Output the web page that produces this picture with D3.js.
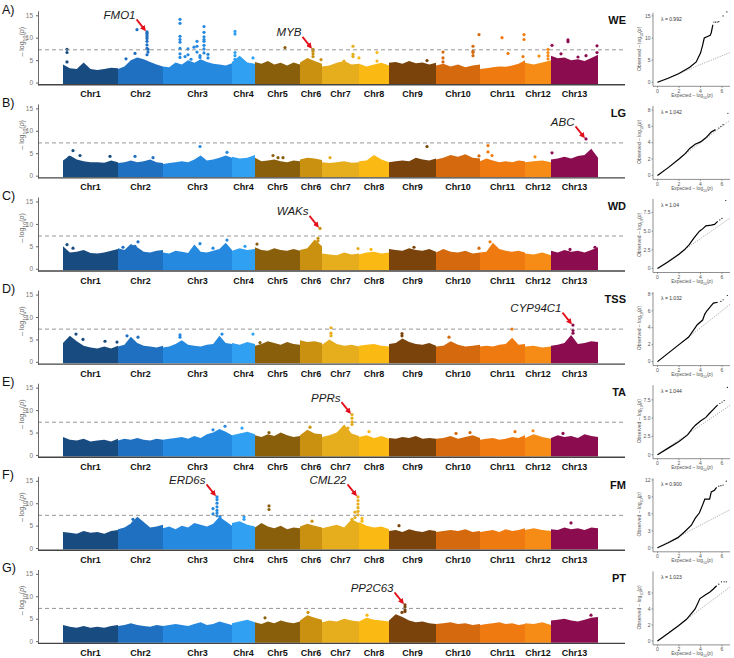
<!DOCTYPE html>
<html>
<head>
<meta charset="utf-8">
<script src="https://cdn.jsdelivr.net/npm/d3@7"></script>
<style>
  body { margin: 0; background: #fff; }
  svg { font-family: "Liberation Sans", Arial, sans-serif; }
</style>
</head>
<body>
<div id="chart"></div>
<script>
// Manhattan + QQ plots for seven traits.

// chromosomes
// ------------------------------------------------------
const chromosomes = ["Chr1", "Chr2", "Chr3", "Chr4", "Chr5", "Chr6", "Chr7",
                     "Chr8", "Chr9", "Chr10", "Chr11", "Chr12", "Chr13"];
const chrLength = [55, 45, 69, 23, 45, 22, 37, 30, 47, 44, 45, 26, 47];
const chrColors = ["#184b80", "#1f70c0", "#2589e0", "#30a0f2", "#8a5f0b", "#c9910f",
                   "#e6ad1c", "#fbb914", "#7a430b", "#d4690e", "#ef7a0f", "#f68b15", "#8b0d50"];

const traitNames = ["WE", "LG", "WD", "TSS", "TA", "FM", "PT"];
const panelLetters = ["A)", "B)", "C)", "D)", "E)", "F)", "G)"];
const lambdas = ["0.992", "1.042", "1.04", "1.032", "1.044", "0.900", "1.023"];
const threshold = 7.3;
const manhattanTicks = [0, 5, 10, 15];

// dense mass: upper envelope of -log10(p), evenly spaced along each chromosome
const weMass = [
    [4.0, 3.2, 3.0, 4.5, 3.0, 2.8, 3.0, 3.3, 3.2],
    [3.0, 3.6, 5.0, 5.6, 5.2, 4.6, 4.0, 3.6],
    [3.6, 3.4, 4.5, 4.0, 5.0, 4.4, 5.2, 4.6, 4.2, 4.0, 3.8, 4.3],
    [4.6, 6.0, 4.5, 4.2],
    [4.6, 4.2, 4.8, 4.0, 4.4, 3.8, 4.5, 4.0],
    [4.5, 5.5, 4.8, 4.2],
    [3.6, 3.8, 4.4, 4.8, 4.0, 4.2],
    [4.2, 3.6, 4.0, 4.4, 3.8],
    [4.4, 4.6, 4.2, 4.8, 4.3, 4.5, 4.0, 4.4],
    [3.8, 4.2, 3.6, 4.0, 3.4, 3.8, 4.0],
    [3.0, 3.2, 3.4, 3.6, 3.5, 3.8, 4.2, 5.0],
    [4.4, 4.0, 4.5, 5.0],
    [6.0, 5.4, 5.6, 5.0, 5.2, 4.8, 5.5, 6.2]
];
const lgMass = [
    [3.4, 4.5, 3.6, 3.2, 3.0, 3.0, 2.9, 3.4, 3.0],
    [2.8, 3.0, 3.4, 3.0, 3.2, 3.6, 3.0, 2.8],
    [2.6, 2.8, 3.0, 3.2, 3.0, 3.6, 4.5, 3.4, 3.6, 4.0, 4.5, 4.0],
    [4.2, 3.8, 4.0, 4.6],
    [4.0, 3.2, 3.4, 3.6, 3.2, 3.0, 3.4, 3.2],
    [3.6, 4.0, 3.8, 3.5],
    [3.0, 2.8, 3.0, 3.2, 2.9, 3.0],
    [3.2, 3.4, 4.6, 3.6, 3.0],
    [3.0, 3.2, 3.4, 3.2, 4.0, 3.6, 3.4, 3.8],
    [3.6, 4.0, 4.6, 4.2, 4.8, 4.0, 3.8],
    [3.2, 3.8, 3.4, 3.0, 3.2, 3.0, 3.4, 3.2],
    [3.0, 3.2, 3.4, 3.0],
    [3.6, 3.8, 4.2, 3.8, 4.4, 4.6, 6.0, 4.0]
];
const wdMass = [
    [5.0, 3.6, 3.8, 4.2, 3.5, 3.4, 3.6, 4.0, 4.4],
    [4.6, 4.2, 5.5, 4.8, 3.8, 3.6, 4.0, 4.2],
    [3.6, 3.4, 4.0, 3.8, 3.5, 5.4, 3.8, 3.6, 4.0, 4.4, 5.8, 4.2],
    [4.0, 4.6, 4.2, 4.4],
    [4.8, 4.2, 4.0, 4.6, 4.2, 4.0, 4.4, 4.0],
    [4.2, 4.6, 6.5, 5.0],
    [3.4, 3.2, 3.0, 3.6, 3.2, 3.4],
    [3.2, 3.6, 3.8, 3.4, 3.6],
    [4.4, 4.2, 4.0, 4.6, 4.2, 4.0, 4.4, 3.8],
    [3.6, 4.4, 3.8, 3.6, 4.0, 3.4, 3.6],
    [3.6, 3.8, 5.8, 4.4, 4.0, 3.8, 4.0, 3.6],
    [3.4, 3.2, 3.6, 3.0],
    [4.0, 3.6, 4.2, 3.8, 4.0, 3.6, 4.2, 4.8]
];
const tssMass = [
    [4.2, 5.8, 4.6, 3.6, 3.2, 3.0, 3.4, 3.0, 3.6],
    [3.4, 3.8, 5.6, 4.2, 3.6, 3.4, 3.2, 3.6],
    [3.2, 3.4, 4.0, 4.8, 3.8, 3.6, 3.4, 3.8, 4.0, 5.8, 4.2, 4.0],
    [4.2, 3.8, 4.4, 4.0],
    [3.6, 4.0, 4.6, 4.2, 3.8, 4.4, 4.0, 3.8],
    [4.8, 4.4, 4.6, 4.2],
    [3.8, 5.0, 4.0, 3.6, 3.8, 3.4],
    [3.6, 3.8, 4.0, 3.6, 3.4],
    [4.0, 4.2, 5.2, 4.4, 4.0, 3.8, 4.2, 3.6],
    [3.4, 3.6, 4.6, 3.8, 3.4, 3.6, 3.8],
    [3.4, 3.6, 3.4, 3.8, 4.0, 5.4, 3.8, 4.0],
    [3.4, 3.6, 3.2, 3.4],
    [3.6, 3.8, 4.2, 6.0, 4.0, 4.2, 4.6, 4.4]
];
const taMass = [
    [4.0, 3.4, 3.2, 3.6, 3.0, 3.2, 3.4, 3.0, 3.6],
    [3.2, 3.6, 3.4, 3.8, 3.4, 3.2, 3.6, 3.4],
    [3.4, 3.6, 3.8, 4.0, 3.6, 4.2, 3.8, 4.6, 5.0, 5.8, 5.2, 4.4],
    [4.4, 4.8, 5.2, 4.6],
    [4.4, 4.0, 4.6, 4.2, 5.0, 4.4, 4.0, 4.2],
    [4.4, 5.6, 4.8, 4.6],
    [4.0, 4.4, 5.0, 6.8, 4.8, 4.2],
    [4.0, 4.4, 3.8, 4.2, 3.6],
    [3.8, 3.6, 4.0, 3.8, 4.2, 3.6, 3.8, 3.6],
    [3.6, 3.8, 4.2, 3.6, 4.0, 4.4, 3.8],
    [3.4, 3.6, 3.8, 3.4, 3.6, 4.0, 3.8, 4.4],
    [3.8, 4.6, 4.0, 3.6],
    [3.8, 4.4, 4.0, 4.2, 3.8, 4.6, 4.2, 4.0]
];
const fmMass = [
    [3.6, 3.4, 3.2, 3.8, 3.4, 3.6, 3.2, 3.8, 4.0],
    [4.2, 4.6, 5.5, 7.0, 5.8, 4.6, 4.8, 5.2],
    [4.4, 4.8, 4.2, 5.0, 4.6, 5.6, 5.2, 4.8, 5.4, 7.0, 6.0, 5.0],
    [5.6, 6.0, 5.2, 4.8],
    [4.6, 5.6, 4.8, 4.4, 5.0, 4.2, 4.6, 4.4],
    [4.8, 5.4, 5.0, 4.6],
    [4.4, 4.8, 5.2, 4.6, 6.4, 5.6],
    [5.8, 5.0, 4.6, 4.8, 4.2],
    [3.8, 4.0, 3.6, 4.2, 3.8, 3.6, 4.0, 3.8],
    [3.6, 3.8, 4.0, 3.8, 4.2, 3.6, 3.8],
    [3.6, 3.8, 4.0, 3.6, 4.2, 3.8, 4.0, 4.4],
    [4.0, 4.4, 4.0, 3.8],
    [4.2, 4.0, 4.6, 4.2, 4.4, 4.0, 4.6, 4.4]
];
const ptMass = [
    [3.6, 3.2, 3.0, 3.4, 3.0, 3.2, 3.0, 3.4, 3.6],
    [3.4, 3.6, 4.0, 3.6, 3.4, 3.2, 3.6, 3.4],
    [3.4, 3.6, 3.8, 3.6, 3.4, 3.8, 4.2, 3.6, 3.8, 4.4, 4.0, 3.6],
    [4.0, 4.4, 4.8, 4.2],
    [4.2, 3.8, 4.4, 4.0, 4.6, 4.2, 4.0, 4.4],
    [4.6, 5.8, 5.2, 4.8],
    [4.2, 4.6, 4.4, 5.0, 4.6, 4.4],
    [4.4, 5.2, 4.8, 4.6, 4.4],
    [4.6, 6.0, 5.4, 4.6, 4.2, 4.4, 4.0, 3.8],
    [3.8, 4.0, 4.2, 3.8, 4.0, 3.6, 3.8],
    [3.6, 3.8, 4.0, 4.2, 3.8, 4.0, 3.6, 3.8],
    [4.0, 3.8, 4.2, 3.6],
    [4.6, 4.8, 5.0, 4.6, 4.4, 4.8, 5.2, 5.4]
];

// single SNPs standing out of the mass: [chromosome, position, -log10(p)]
const weDots = [
    [1, 4, 7.4], [1, 4, 6.7], [1, 4, 4.6],
    [2, 8, 5.3], [2, 17, 6.5], [2, 19, 11.8],
    [2, 29, 11.3], [2, 29, 11.0], [2, 29, 10.6], [2, 29, 10.2], [2, 29, 9.8], [2, 29, 9.2],
    [2, 29, 8.4], [2, 29, 7.6], [2, 30, 7.4], [2, 30, 6.8], [2, 29, 6.2],
    [3, 17, 14.1], [3, 17, 13.2], [3, 17, 10.3], [3, 17, 9.6], [3, 17, 9.0], [3, 17, 7.6], [3, 17, 6.4], [3, 17, 5.6],
    [3, 22, 5.8], [3, 25, 7.5], [3, 25, 6.2], [3, 31, 7.9], [3, 34, 9.2], [3, 34, 8.1], [3, 34, 6.8],
    [3, 37, 6.0], [3, 37, 5.6], [3, 28, 5.2],
    [3, 41, 12.5], [3, 41, 11.2], [3, 41, 10.2], [3, 41, 9.6], [3, 41, 9.2], [3, 41, 8.3], [3, 41, 7.5], [3, 41, 6.6],
    [3, 45, 6.3], [3, 45, 5.5],
    [4, 3, 11.4], [4, 3, 10.8], [4, 3, 6.7], [4, 3, 6.0], [4, 3, 5.2], [4, 21, 5.5],
    [5, 30, 7.8],
    [6, 13, 7.4], [6, 13, 7.0], [6, 13, 6.4], [6, 13, 5.8], [6, 21, 5.1],
    [7, 31, 8.1], [7, 31, 6.3], [7, 31, 5.8], [7, 22, 4.8],
    [8, 18, 6.7], [8, 18, 4.8], [8, 0, 5.5],
    [9, 38, 4.9],
    [10, 7, 6.8], [10, 7, 5.5], [10, 7, 4.6], [10, 37, 8.1], [10, 37, 7.0], [10, 37, 6.7], [10, 37, 6.0], [10, 43, 10.7],
    [11, 22, 10.0], [11, 28, 6.5], [11, 44, 10.7], [11, 44, 9.6], [11, 43, 5.8],
    [12, 23, 7.4], [12, 23, 6.7], [12, 23, 6.0], [12, 23, 5.3], [12, 14, 5.9],
    [13, 1, 8.3], [13, 17, 9.5], [13, 17, 9.1], [13, 27, 5.7], [13, 46, 8.2], [13, 46, 6.7], [13, 10, 6.4], [13, 35, 6.0]
];
const lgDots = [
    [1, 10, 5.6], [1, 17, 4.5], [1, 6, 4.0], [1, 47, 4.3],
    [2, 17, 4.3], [2, 35, 4.0],
    [3, 37, 6.5], [3, 64, 5.2],
    [5, 18, 4.5], [5, 23, 4.0], [5, 28, 4.0],
    [7, 8, 4.0],
    [9, 38, 6.5],
    [10, 43, 4.4],
    [11, 8, 6.7], [11, 8, 5.3], [11, 12, 4.5],
    [12, 10, 4.2],
    [13, 1, 5.1], [13, 35, 8.2]
];
const wdDots = [
    [1, 4, 5.4], [1, 10, 4.6],
    [2, 20, 6.0], [2, 17, 5.0], [2, 5, 4.8],
    [3, 64, 6.4], [3, 37, 5.6], [3, 50, 4.6],
    [4, 13, 5.0],
    [5, 2, 5.5],
    [6, 20, 9.0], [6, 18, 6.8], [6, 18, 6.2],
    [7, 36, 4.5],
    [8, 12, 4.3],
    [9, 25, 4.8],
    [10, 43, 4.6],
    [11, 10, 6.0],
    [13, 19, 4.3], [13, 44, 4.8]
];
const tssDots = [
    [1, 13, 6.2], [1, 20, 5.0], [1, 42, 4.6], [1, 54, 4.4],
    [2, 9, 5.8], [2, 20, 5.5],
    [3, 17, 6.0], [3, 17, 5.5], [3, 59, 6.2],
    [4, 21, 6.2],
    [5, 5, 4.3],
    [7, 9, 7.6], [7, 9, 6.4], [7, 9, 5.8],
    [9, 13, 6.3], [9, 13, 5.8],
    [10, 13, 5.5],
    [11, 32, 7.3],
    [13, 22, 8.2], [13, 22, 7.0], [13, 22, 6.4]
];
const taDots = [
    [3, 62, 6.4], [3, 50, 5.6],
    [4, 10, 6.0],
    [5, 14, 5.0],
    [6, 10, 6.2],
    [7, 30, 9.0], [7, 30, 8.2], [7, 30, 7.4], [7, 30, 6.8], [7, 26, 6.0],
    [8, 10, 5.2],
    [10, 34, 5.0], [10, 20, 4.8],
    [11, 35, 5.2],
    [12, 8, 5.4],
    [13, 12, 4.8]
];
const fmDots = [
    [2, 15, 6.4], [2, 15, 5.6],
    [3, 54, 11.4], [3, 54, 10.8], [3, 54, 10.0], [3, 54, 9.2], [3, 54, 8.4], [3, 54, 7.8], [3, 54, 7.2],
    [3, 50, 8.8], [3, 50, 7.6], [3, 57, 7.0],
    [4, 12, 7.0], [4, 12, 6.4],
    [5, 14, 9.4], [5, 14, 8.6],
    [6, 12, 6.0],
    [7, 36, 11.4], [7, 36, 10.6], [7, 36, 9.8], [7, 36, 9.0], [7, 36, 8.2], [7, 36, 7.4],
    [7, 33, 8.0], [7, 33, 6.8], [7, 30, 6.4],
    [8, 3, 6.6], [8, 3, 6.0],
    [9, 10, 5.0],
    [13, 20, 5.6]
];
const ptDots = [
    [5, 10, 5.2],
    [6, 8, 6.4],
    [8, 8, 5.8],
    [9, 16, 8.1], [9, 16, 7.6], [9, 16, 7.0], [9, 16, 6.6], [9, 13, 6.4],
    [13, 40, 5.8]
];

// labelled candidate genes: trait, gene, [chromosome, position, -log10(p)]
const genes = [
    ["WE", "FMO1", [2, 29, 11.3]],
    ["WE", "MYB", [6, 13, 7.4]],
    ["LG", "ABC", [13, 35, 8.2]],
    ["WD", "WAKs", [6, 20, 9.0]],
    ["TSS", "CYP94C1", [13, 22, 8.2]],
    ["TA", "PPRs", [7, 30, 9.0]],
    ["FM", "ERD6s", [3, 54, 11.4]],
    ["FM", "CML22", [7, 36, 11.4]],
    ["PT", "PP2C63", [9, 16, 8.1]]
];

// QQ plots: [expected, observed] along the curve, then the sparse top points
const weQQ = [[0, 0], [1, 0.9], [2, 2.0], [3, 3.4], [3.6, 4.6], [4, 6.6], [4.2, 8.4], [4.35, 10], [4.6, 10.3],
              [4.9, 10.6], [5.0, 11.2], [5.15, 13.0]];
const weQQTail = [[5.25, 13.6], [5.4, 13.6], [5.55, 13.6], [5.7, 13.7], [6.1, 15.0], [6.45, 15.9]];
const lgQQ = [[0, 0], [1, 0.95], [2, 2.0], [2.6, 2.7], [3, 3.3], [3.5, 3.8], [4, 4.1], [4.5, 4.6], [5, 5.3], [5.4, 5.6]];
const lgQQTail = [[5.7, 5.8], [5.9, 6.0], [6.1, 6.2], [6.55, 7.6]];
const wdQQ = [[0, 0], [1, 0.9], [2, 1.9], [2.5, 2.5], [2.95, 3.2], [3.4, 4.1], [3.9, 5.0], [4.2, 5.3], [4.5, 5.7],
              [5.0, 5.8], [5.3, 5.9], [5.6, 6.3]];
const wdQQTail = [[5.8, 6.5], [6.0, 6.7], [6.35, 9.1]];
const tssQQ = [[0, 0], [1, 1.0], [2, 2.0], [2.9, 2.9], [3.4, 3.8], [3.7, 4.35], [4.2, 4.9], [4.4, 5.6], [4.6, 6.0],
               [5.0, 6.6], [5.2, 6.9], [5.6, 7.0]];
const tssQQTail = [[5.9, 7.1], [6.1, 7.3], [6.5, 7.8]];
const taQQ = [[0, 0], [1, 0.9], [2, 1.8], [2.8, 2.7], [3.2, 3.5], [3.5, 4.0], [4, 4.6], [4.5, 5.1], [4.8, 5.6],
              [5.2, 6.2], [5.6, 6.8]];
const taQQTail = [[5.8, 7.0], [6.0, 7.2], [6.2, 7.4], [6.5, 9.2]];
const fmQQ = [[0, 0], [1, 0.9], [1.9, 1.8], [2.5, 2.8], [3.15, 4.0], [3.5, 5.2], [3.9, 6.2], [4.2, 7.6], [4.4, 8.6],
              [4.85, 8.6], [5.0, 9.9], [5.3, 10.2], [5.5, 10.7]];
const fmQQTail = [[5.7, 10.9], [5.9, 11.0], [6.1, 11.1], [6.4, 11.8]];
const ptQQ = [[0, 0], [1, 0.95], [1.95, 1.9], [2.7, 2.7], [3.2, 3.5], [3.5, 4.0], [3.95, 5.3], [4.4, 5.7], [4.85, 6.1],
              [5.2, 6.5], [5.5, 6.9]];
const ptQQTail = [[5.7, 7.1], [5.95, 7.4], [6.2, 7.4], [6.4, 7.4]];

const qqTicks = [[0, 5, 10, 15], [0, 2, 4, 6, 8], [0, 2.5, 5, 7.5], [0, 2, 4, 6, 8],
                 [0, 2.5, 5, 7.5], [0, 3, 6, 9, 12], [0, 2, 4, 6]];
const qqTop = [15.7, 8.5, 9.3, 8.2, 9.5, 12.3, 8.7];
const qqXTicks = [0, 2, 4, 6];

const masses = [weMass, lgMass, wdMass, tssMass, taMass, fmMass, ptMass];
const dotSets = [weDots, lgDots, wdDots, tssDots, taDots, fmDots, ptDots];
const qqLines = [weQQ, lgQQ, wdQQ, tssQQ, taQQ, fmQQ, ptQQ];
const qqTails = [weQQTail, lgQQTail, wdQQTail, tssQQTail, taQQTail, fmQQTail, ptQQTail];

const traits = traitNames.map((name, i) => ({
    name: name,
    letter: panelLetters[i],
    lambda: lambdas[i],
    mass: masses[i],
    dots: dotSets[i],
    qq: qqLines[i],
    qqTail: qqTails[i],
    qqTicks: qqTicks[i],
    qqTop: qqTop[i]
}));


// layout
// ------------------------------------------------------
let width = 734,
    height = 658,
    firstAxisY = 84.8,
    panelStep = 93.1,
    axisLeft = 38,
    axisRight = 625,
    plotLeft = 63,
    plotRight = 598,
    qqLeft = 653,
    qqRight = 730,
    pointRadius = 1.6;

let chrStart = [];
chrLength.reduce((acc, len, i) => { chrStart[i] = acc; return acc + len; }, 0);
let genomeLength = d3.sum(chrLength);

let xScale = d3.scaleLinear()
    .domain([0, genomeLength])
    .range([plotLeft, plotRight]);

let qqX = d3.scaleLinear()
    .domain([0, 6])
    .range([657.5, 722]);

let svg = d3.select("#chart")
    .append("svg")
        .attr("width", width)
        .attr("height", height);

svg.append("defs")
    .append("marker")
        .attr("id", "arrowHead")
        .attr("viewBox", "0 0 10 10")
        .attr("refX", 6)
        .attr("refY", 5)
        .attr("markerWidth", 3.2)
        .attr("markerHeight", 3.2)
        .attr("orient", "auto")
    .append("path")
        .attr("d", "M0,0 L10,5 L0,10 z")
        .attr("fill", "#e3101b");

// writes "– log10(p)" with subscript and italic p
function logLabel(text, prefix) {
    text.append("tspan").text(prefix + "\u2013 log");
    text.append("tspan").attr("baseline-shift", "sub").attr("font-size", "75%").text("10");
    text.append("tspan").text("(");
    text.append("tspan").attr("font-style", "italic").text("p");
    text.append("tspan").text(")");
}

traits.forEach((trait, i) => {
    let axisY = firstAxisY + i * panelStep;
    let g = svg.append("g").attr("class", "panel");

    let yScale = d3.scaleLinear()
        .domain([-0.5, 16])
        .range([axisY, axisY - 74]);

    // panel letter and trait name
    g.append("text")
        .attr("x", 2)
        .attr("y", axisY - 71)
        .attr("font-size", 12.5)
        .attr("fill", "#111")
        .text(trait.letter);

    g.append("text")
        .attr("x", 626)
        .attr("y", axisY - 61)
        .attr("text-anchor", "end")
        .attr("font-size", 11)
        .attr("font-weight", "bold")
        .attr("fill", "#111")
        .text(trait.name);


    // mass of SNPs
    // ------------------------------------------------------
    let area = d3.area()
        .x(d => xScale(d[0]))
        .y0(yScale(0) + 1.5)
        .y1(d => yScale(d[1]));

    trait.mass.forEach((values, c) => {
        let n = values.length;
        let pts = values.map((v, k) => [chrStart[c] + chrLength[c] * k / (n - 1), v]);
        g.append("path")
            .attr("d", area(pts))
            .attr("fill", chrColors[c]);
    });

    g.selectAll(".snp")
        .data(trait.dots)
        .enter()
        .append("circle")
            .attr("class", "snp")
            .attr("cx", d => xScale(chrStart[d[0] - 1] + d[1]))
            .attr("cy", d => yScale(d[2]))
            .attr("r", pointRadius)
            .attr("fill", d => chrColors[d[0] - 1]);


    // axes
    // ------------------------------------------------------
    g.append("line")
        .attr("x1", axisLeft).attr("x2", axisRight)
        .attr("y1", yScale(threshold)).attr("y2", yScale(threshold))
        .attr("stroke", "#8a8a8a")
        .attr("stroke-width", 0.9)
        .attr("stroke-dasharray", "4,3");

    let leftAxis = g.append("g")
        .attr("transform", `translate(${axisLeft}, 0)`)
        .call(d3.axisLeft(yScale).tickValues(manhattanTicks).tickSize(2).tickSizeOuter(0));
    leftAxis.select(".domain").attr("stroke", "#444").attr("stroke-width", 0.8);
    leftAxis.selectAll(".tick line").attr("stroke", "#666");
    leftAxis.selectAll(".tick text")
        .attr("font-size", 6.5)
        .attr("fill", "#777")
        .attr("font-family", "Liberation Sans, Arial, sans-serif");

    g.append("line")
        .attr("x1", axisLeft).attr("x2", axisRight)
        .attr("y1", axisY).attr("y2", axisY)
        .attr("stroke", "#444")
        .attr("stroke-width", 1.4);

    let yTitle = g.append("text")
        .attr("transform", `translate(24, ${axisY - 43}) rotate(-90)`)
        .attr("text-anchor", "middle")
        .attr("font-size", 7)
        .attr("fill", "#666");
    logLabel(yTitle, "");

    g.selectAll(".chrLabel")
        .data(chromosomes)
        .enter()
        .append("text")
            .attr("class", "chrLabel")
            .attr("x", (d, c) => xScale(chrStart[c] + chrLength[c] / 2))
            .attr("y", axisY + 12.5)
            .attr("text-anchor", "middle")
            .attr("font-size", 9)
            .attr("font-weight", "bold")
            .attr("fill", "#111")
            .text(d => d);


    // gene labels
    // ------------------------------------------------------
    genes.filter(d => d[0] === trait.name).forEach(d => {
        let tx = xScale(chrStart[d[2][0] - 1] + d[2][1]),
            ty = yScale(d[2][2]);
        let tip = [tx - 2.5, ty - 2.5],
            tail = [tip[0] - 8, tip[1] - 10];
        g.append("line")
            .attr("x1", tail[0]).attr("y1", tail[1])
            .attr("x2", tip[0]).attr("y2", tip[1])
            .attr("stroke", "#e3101b")
            .attr("stroke-width", 1.8)
            .attr("marker-end", "url(#arrowHead)");
        g.append("text")
            .attr("x", tail[0] - 1)
            .attr("y", tail[1] - 0.5)
            .attr("text-anchor", "end")
            .attr("font-size", 11.5)
            .attr("font-style", "italic")
            .attr("fill", "#1a1a1a")
            .text(d[1]);
    });


    // QQ plot
    // ------------------------------------------------------
    let qqBase = axisY + 1.5;
    let qqY = d3.scaleLinear()
        .domain([0, trait.qqTop])
        .range([axisY - 2.5, axisY - 72]);

    let q = svg.append("g").attr("class", "qq");

    q.append("line")
        .attr("x1", qqX(0)).attr("y1", qqY(0))
        .attr("x2", qqX(6.75)).attr("y2", qqY(6.75))
        .attr("stroke", "#777")
        .attr("stroke-width", 0.6)
        .attr("stroke-dasharray", "1.2,1.2");

    q.append("path")
        .attr("d", d3.line().x(d => qqX(d[0])).y(d => qqY(d[1]))(trait.qq))
        .attr("fill", "none")
        .attr("stroke", "#000")
        .attr("stroke-width", 1.2);

    q.selectAll(".tail")
        .data(trait.qqTail)
        .enter()
        .append("circle")
            .attr("class", "tail")
            .attr("cx", d => qqX(d[0]))
            .attr("cy", d => qqY(d[1]))
            .attr("r", 0.6)
            .attr("fill", "#000");

    q.append("line")
        .attr("x1", qqLeft).attr("x2", qqLeft)
        .attr("y1", qqBase).attr("y2", axisY - 72)
        .attr("stroke", "#444").attr("stroke-width", 0.6);
    q.append("line")
        .attr("x1", qqLeft).attr("x2", qqRight)
        .attr("y1", qqBase).attr("y2", qqBase)
        .attr("stroke", "#444").attr("stroke-width", 0.6);

    let fmt = trait.qqTicks.some(t => !Number.isInteger(t)) ? d3.format(".1f") : d3.format("d");
    trait.qqTicks.forEach(t => {
        q.append("line")
            .attr("x1", qqLeft - 1.5).attr("x2", qqLeft)
            .attr("y1", qqY(t)).attr("y2", qqY(t))
            .attr("stroke", "#444").attr("stroke-width", 0.5);
        q.append("text")
            .attr("x", qqLeft - 2.5)
            .attr("y", qqY(t) + 1.8)
            .attr("text-anchor", "end")
            .attr("font-size", 5)
            .attr("fill", "#555")
            .text(t === 0 ? "0" : fmt(t));
    });
    qqXTicks.forEach(t => {
        q.append("line")
            .attr("x1", qqX(t)).attr("x2", qqX(t))
            .attr("y1", qqBase).attr("y2", qqBase + 1.5)
            .attr("stroke", "#444").attr("stroke-width", 0.5);
        q.append("text")
            .attr("x", qqX(t))
            .attr("y", qqBase + 6.3)
            .attr("text-anchor", "middle")
            .attr("font-size", 5)
            .attr("fill", "#555")
            .text(t);
    });

    let xTitle = q.append("text")
        .attr("x", 692)
        .attr("y", qqBase + 10.5)
        .attr("text-anchor", "middle")
        .attr("font-size", 4.8)
        .attr("fill", "#555");
    logLabel(xTitle, "Expected  ");

    let qTitle = q.append("text")
        .attr("transform", `translate(641, ${axisY - 36}) rotate(-90)`)
        .attr("text-anchor", "middle")
        .attr("font-size", 5)
        .attr("fill", "#555");
    logLabel(qTitle, "Observed  ");

    q.append("text")
        .attr("x", 661)
        .attr("y", axisY - 64)
        .attr("font-size", 5)
        .attr("fill", "#333")
        .text("\u03bb = " + trait.lambda);
});
</script>
</body>
</html>
